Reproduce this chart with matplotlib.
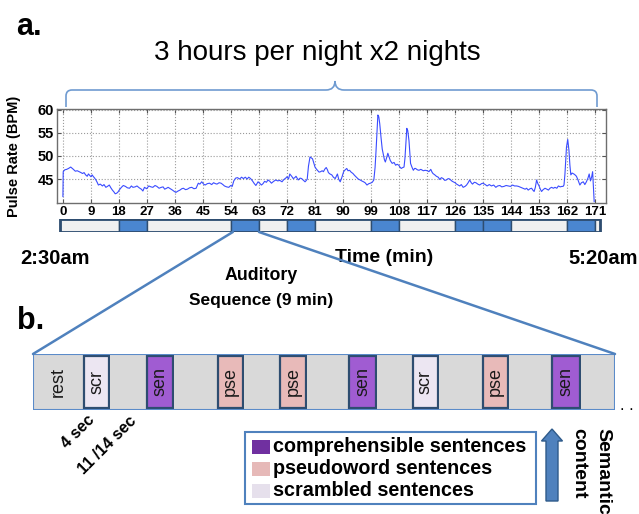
import numpy as np
import matplotlib
matplotlib.use('Agg')
import matplotlib.pyplot as plt
from matplotlib import font_manager
from matplotlib.patches import Rectangle, FancyArrow, ConnectionPatch, PathPatch
from matplotlib.path import Path

fonts = {f.name for f in font_manager.fontManager.ttflist}
SANS = 'Liberation Sans' if 'Liberation Sans' in fonts else 'DejaVu Sans'
plt.rcParams['font.family'] = [SANS, 'DejaVu Sans']

# pulse trace (minute, bpm)
pulse_min = [0.0, 0.1, 0.6, 1.2, 1.8, 2.5, 3.2, 4.0, 4.6, 5.2, 5.8, 6.3, 6.8, 7.3, 7.8, 8.2, 8.6, 9.0, 9.4, 9.7,
             10.2, 10.6, 11.0, 11.4, 12.0, 12.7, 13.2, 13.8, 14.3, 14.9, 15.4, 15.9, 16.4, 16.8, 17.2, 17.6, 18.2, 18.8, 19.4, 20.1,
             20.7, 21.4, 22.0, 22.5, 23.2, 23.8, 24.5, 25.2, 25.7, 26.2, 26.9, 27.6, 28.3, 28.9, 29.6, 30.2, 30.9, 31.6, 32.2, 32.7,
             33.3, 33.8, 34.5, 35.2, 35.8, 36.3, 37.0, 37.6, 38.2, 38.7, 39.4, 40.0, 40.7, 41.4, 42.1, 42.8, 43.2, 43.5, 44.0, 44.6,
             45.2, 45.7, 46.4, 47.1, 47.8, 48.4, 49.0, 49.5, 50.2, 50.8, 51.4, 51.9, 52.6, 53.3, 53.9, 54.4, 54.9, 55.5, 56.1, 56.8,
             57.4, 58.0, 58.6, 59.2, 59.7, 60.3, 60.9, 61.5, 62.0, 62.7, 63.2, 63.8, 64.3, 64.8, 65.4, 65.9, 66.5, 67.0, 67.7, 68.4,
             69.0, 69.7, 70.4, 71.0, 71.6, 72.0, 72.5, 72.9, 73.5, 74.0, 74.5, 74.9, 75.6, 76.2, 76.7, 77.3, 77.8, 78.2, 78.5, 78.9,
             79.4, 79.8, 80.2, 80.6, 81.0, 81.4, 81.8, 82.3, 82.8, 83.3, 83.7, 84.2, 84.6, 85.0, 85.3, 85.8, 86.4, 86.9, 87.5, 88.2,
             88.6, 89.1, 89.6, 90.2, 90.7, 91.2, 91.6, 92.1, 92.6, 93.2, 93.7, 94.3, 94.9, 95.5, 96.0, 96.6, 97.1, 97.7, 98.3, 98.8,
             99.4, 99.9, 100.3, 100.6, 100.9, 101.2, 101.5, 101.8, 102.2, 102.6, 102.9, 103.3, 103.6, 104.0, 104.4, 104.8, 105.2, 105.8, 106.4, 106.9,
             107.4, 107.9, 108.3, 108.7, 109.2, 109.6, 109.9, 110.2, 110.5, 110.8, 111.2, 111.5, 111.7, 112.2, 112.6, 113.0, 113.3, 113.9, 114.4, 115.0,
             115.8, 116.4, 117.1, 117.6, 118.2, 118.6, 118.9, 119.5, 120.0, 120.6, 121.1, 121.6, 122.2, 122.7, 123.2, 123.8, 124.3, 124.9, 125.4, 126.0,
             126.5, 127.0, 127.5, 128.0, 128.6, 129.2, 129.7, 130.2, 130.7, 131.2, 131.6, 132.2, 132.7, 133.3, 133.9, 134.5, 135.0, 135.7, 136.3, 137.0,
             137.7, 138.4, 139.1, 139.7, 140.4, 141.0, 141.7, 142.4, 143.1, 143.8, 144.5, 145.1, 145.8, 146.4, 147.1, 147.8, 148.5, 149.0, 149.5, 150.1,
             150.6, 151.0, 151.4, 151.8, 152.2, 152.6, 153.0, 153.4, 153.8, 154.3, 154.9, 155.5, 156.0, 156.5, 157.0, 157.6, 158.1, 158.7, 159.2, 159.8,
             160.3, 160.7, 161.0, 161.3, 161.5, 161.8, 162.2, 162.6, 162.9, 163.2, 163.6, 163.9, 164.4, 165.0, 165.5, 166.1, 166.6, 167.2, 167.7, 168.2,
             168.7, 169.1, 169.5, 169.9, 170.2, 170.4, 170.6, 170.7]
pulse_bpm = [41.2, 46.6, 47.0, 47.1, 47.3, 47.6, 47.2, 46.7, 46.8, 46.6, 46.4, 46.2, 46.4, 45.9, 45.6, 46.1, 45.8, 45.5, 45.9, 45.6,
             45.2, 44.8, 44.3, 43.7, 43.9, 43.5, 43.8, 43.2, 43.4, 43.7, 43.1, 42.6, 42.2, 41.8, 41.9, 42.1, 42.7, 43.2, 43.6, 43.4,
             43.1, 43.0, 43.5, 43.2, 43.3, 43.5, 43.1, 42.8, 42.4, 43.2, 42.9, 43.5, 43.3, 43.2, 43.6, 43.4, 43.0, 43.2, 43.3, 42.8,
             43.0, 43.2, 42.9, 42.6, 42.3, 42.1, 42.4, 42.6, 42.9, 43.0, 42.7, 42.8, 43.1, 43.2, 42.9, 43.0, 43.6, 44.1, 43.9, 44.4,
             43.9, 43.7, 44.0, 44.1, 43.8, 44.2, 44.0, 43.9, 44.2, 44.1, 43.8, 43.5, 43.3, 43.2, 43.6, 43.4, 44.6, 45.2, 45.3, 45.0,
             45.4, 45.1, 45.4, 45.0, 45.4, 45.1, 44.6, 44.0, 43.6, 44.4, 44.1, 43.7, 44.0, 44.5, 44.3, 44.8, 44.5, 44.1, 44.5, 44.8,
             44.6, 44.7, 44.4, 44.9, 45.2, 45.5, 45.0, 46.1, 45.6, 45.1, 45.3, 45.6, 44.8, 45.2, 45.1, 44.7, 44.4, 44.7, 45.0, 47.8,
             49.8, 49.6, 49.4, 48.5, 47.6, 47.2, 46.9, 46.5, 46.6, 46.8, 46.6, 47.2, 47.5, 47.0, 46.4, 46.1, 45.9, 45.4, 45.1, 46.1,
             45.0, 44.4, 45.3, 46.6, 47.0, 47.3, 46.8, 46.9, 46.5, 46.2, 45.8, 45.4, 45.0, 44.8, 44.6, 44.4, 44.2, 43.7, 44.0, 44.1,
             44.3, 44.8, 47.5, 51.0, 55.0, 58.9, 58.5, 57.0, 54.1, 51.5, 50.5, 49.2, 48.7, 49.6, 50.6, 49.8, 49.0, 48.4, 48.6, 48.0,
             48.2, 48.0, 47.6, 47.3, 47.5, 47.6, 49.5, 52.6, 56.0, 55.5, 53.3, 50.5, 48.4, 47.5, 46.9, 47.3, 47.3, 47.0, 46.9, 47.1,
             46.8, 46.9, 46.8, 46.6, 47.1, 46.5, 46.2, 45.9, 45.6, 45.4, 44.9, 45.3, 45.1, 44.7, 44.8, 45.1, 45.0, 44.6, 44.4, 44.2,
             43.9, 43.7, 43.5, 43.8, 43.2, 43.4, 43.7, 44.2, 44.8, 44.2, 43.9, 44.3, 44.2, 43.9, 43.7, 44.0, 44.1, 43.8, 43.5, 43.8,
             43.5, 43.7, 43.2, 43.5, 43.6, 43.3, 43.4, 43.6, 43.5, 43.4, 43.7, 43.5, 43.5, 43.4, 43.2, 43.0, 42.8, 43.0, 42.6, 42.9,
             43.0, 42.6, 42.3, 43.2, 44.8, 44.0, 43.5, 42.8, 42.3, 42.7, 43.0, 42.8, 42.6, 43.0, 43.2, 43.0, 43.2, 43.0, 43.5, 43.3,
             43.4, 43.4, 43.7, 46.0, 48.4, 51.9, 53.6, 51.2, 48.0, 45.9, 46.3, 46.2, 46.0, 45.6, 44.8, 43.7, 44.2, 44.4, 43.8, 44.4,
             45.2, 46.1, 44.6, 45.5, 46.6, 44.0, 41.2, 40.1]

xtick_vals = list(range(0, 172, 9))
ytick_vals = [45, 50, 55, 60]

# session timeline: 1 = auditory sequence, 0 = no stimulation
block_start = [-1, 18, 27, 54, 63, 72, 81, 99, 108, 126, 135, 144, 162, 171]
block_end = [18, 27, 54, 63, 72, 81, 99, 108, 126, 135, 144, 162, 171, 172.5]
block_sound = [0, 1, 0, 1, 0, 1, 0, 1, 0, 1, 1, 0, 1, 0]

# one auditory sequence (schematic widths)
seq_labels = ['rest', 'scr', '', 'sen', '', 'pse', '', 'pse', '', 'sen', '', 'scr', '', 'pse', '', 'sen', '']
seq_widths = [50, 27, 36, 28, 43, 27, 35, 28, 41, 29, 35, 27, 43, 27, 42, 30, 34]

legend_labels = ['comprehensible sentences', 'pseudoword sentences', 'scrambled sentences']
legend_colors = ['#7030A0', '#E6B9B8', '#E6E0EC']

seq_colors = {'sen': '#A05CD2', 'pse': '#E8BAB9', 'scr': '#ECE6F2', 'rest': '#D9D9D9', '': '#D9D9D9'}
LINE_BLUE = '#4F81BD'
DARK_EDGE = '#2E4D70'

W, H = 639, 514
fig = plt.figure(figsize=(W / 100, H / 100), dpi=100)


def px_axes(x0, y0, x1, y1):
    return fig.add_axes([x0 / W, 1 - y1 / H, (x1 - x0) / W, (y1 - y0) / H])


# --- panel a: pulse rate ---
ax = px_axes(57, 109, 606, 203)
ax.plot(pulse_min, pulse_bpm, color='#3A4CFF', lw=0.8)
ax.set_xlim(-1.9, 174.5)
ax.set_ylim(39.8, 60.2)
ax.set_xticks(xtick_vals)
ax.set_yticks(ytick_vals)
ax.grid(True, linestyle=':', color='#9A9A9A', lw=0.8)
ax.tick_params(direction='in', length=3, top=True, right=True, color='#555555',
               labelsize=9.5, pad=2)
ax.tick_params(axis='y', labelsize=10.5)
for lab in ax.get_xticklabels() + ax.get_yticklabels():
    lab.set_fontweight('bold')
for s in ax.spines.values():
    s.set_color('#6E6E6E')
    s.set_linewidth(1.0)
ax.set_ylabel('Pulse Rate (BPM)', fontsize=10.5, fontweight='bold', labelpad=4)
ax.yaxis.set_label_coords(-0.066, 0.5)

# timeline bar under the trace
axb = px_axes(57, 219, 606, 232)
axb.set_xlim(ax.get_xlim())
axb.set_ylim(0, 1)
for s0, s1, snd in zip(block_start, block_end, block_sound):
    axb.barh(0.5, s1 - s0, left=s0, height=1.0,
             color='#4A86D0' if snd else '#F0F0F0', edgecolor=DARK_EDGE, lw=1.0)
axb.add_patch(Rectangle((block_start[0], 0), block_end[-1] - block_start[0], 1,
                        fill=False, edgecolor=DARK_EDGE, lw=2.0))
axb.axis('off')

# --- panel b: one auditory sequence ---
axs = px_axes(33, 354, 615, 410)
axs.set_xlim(0, sum(seq_widths))
axs.set_ylim(0, 1)
left = 0
for lab, w in zip(seq_labels, seq_widths):
    if lab in ('sen', 'pse', 'scr'):
        axs.add_patch(Rectangle((left + 1, 0.03), w - 2, 0.94, facecolor=seq_colors[lab],
                                edgecolor=DARK_EDGE, lw=1.6))
    else:
        axs.add_patch(Rectangle((left, 0), w, 1, facecolor=seq_colors[lab], edgecolor='none'))
    if lab:
        axs.text(left + w / 2, 0.5, lab, rotation=90, ha='center', va='center',
                 fontsize=13, color='#1A1A1A')
    left += w
axs.add_patch(Rectangle((0, 0), left, 1, fill=False, edgecolor='#5B8BC9', lw=1.5))
axs.axis('off')

# zoom lines from the 54-63 min block to the sequence box
for xa, xb in [(54.6, 0), (63, 1)]:
    con = ConnectionPatch(xyA=(xa, 0), coordsA=axb.transData, xyB=(xb, 1), coordsB=axs.transAxes,
                          color=LINE_BLUE, lw=1.8)
    fig.add_artist(con)

# overlay in pixel coordinates for annotations
ov = fig.add_axes([0, 0, 1, 1])
ov.set_xlim(0, W)
ov.set_ylim(H, 0)
ov.axis('off')

# brace above the trace
verts = [(66, 107), (66, 96), (66, 90), (72, 90), (326, 90), (335, 90), (335, 81),
         (335, 90), (344, 90), (591, 90), (597, 90), (597, 96), (597, 107)]
codes = [Path.MOVETO, Path.LINETO, Path.CURVE3, Path.CURVE3, Path.LINETO, Path.CURVE3, Path.CURVE3,
         Path.CURVE3, Path.CURVE3, Path.LINETO, Path.CURVE3, Path.CURVE3, Path.LINETO]
ov.add_patch(PathPatch(Path(verts, codes), fill=False, edgecolor='#6F9BD1', lw=1.2))

ov.text(29, 35, 'a.', fontsize=22, fontweight='bold', ha='center', va='baseline')
ov.text(31, 329, 'b.', fontsize=22, fontweight='bold', ha='center', va='baseline')
ov.text(317, 53, '3 hours per night x2 nights', fontsize=20, ha='center', va='center')

ov.text(20, 258, '2:30am', fontsize=14.5, fontweight='bold', ha='left', va='center')
ov.text(384, 258, 'Time (min)', fontsize=14, fontweight='bold', ha='center', va='center')
ov.text(638, 258, '5:20am', fontsize=14.5, fontweight='bold', ha='right', va='center')
ov.text(261, 276, 'Auditory', fontsize=12.8, fontweight='bold', ha='center', va='center')
ov.text(261, 300, 'Sequence (9 min)', fontsize=12.5, fontweight='bold', ha='center', va='center')

ov.text(78, 432, '4 sec', fontsize=11.5, fontweight='bold', rotation=45, ha='center', va='center')
ov.text(107, 445, '11 /14 sec', fontsize=11.5, fontweight='bold', rotation=45, ha='center', va='center')
ov.text(627, 406, '. .', fontsize=12, ha='center', va='center')

# legend box
ov.add_patch(Rectangle((245, 432), 291, 72, fill=False, edgecolor=LINE_BLUE, lw=1.5))
for i, (lab, col) in enumerate(zip(legend_labels, legend_colors)):
    yc = 447 + i * 22
    ov.add_patch(Rectangle((252, yc - 7), 18, 14, facecolor=col, edgecolor='none'))
    ov.text(273, yc, lab, fontsize=14.2, fontweight='bold', ha='left', va='center')

# semantic content arrow
ov.add_patch(FancyArrow(552, 501, 0, -72, width=12, head_width=21, head_length=12,
                        length_includes_head=True, facecolor=LINE_BLUE, edgecolor='#2E5A8A', lw=1))
ov.text(579, 428, 'content', fontsize=14, fontweight='bold', rotation=-90, ha='center', va='top')
ov.text(603, 428, 'Semantic', fontsize=14, fontweight='bold', rotation=-90, ha='center', va='top')

fig.savefig('out.png', dpi=100)
